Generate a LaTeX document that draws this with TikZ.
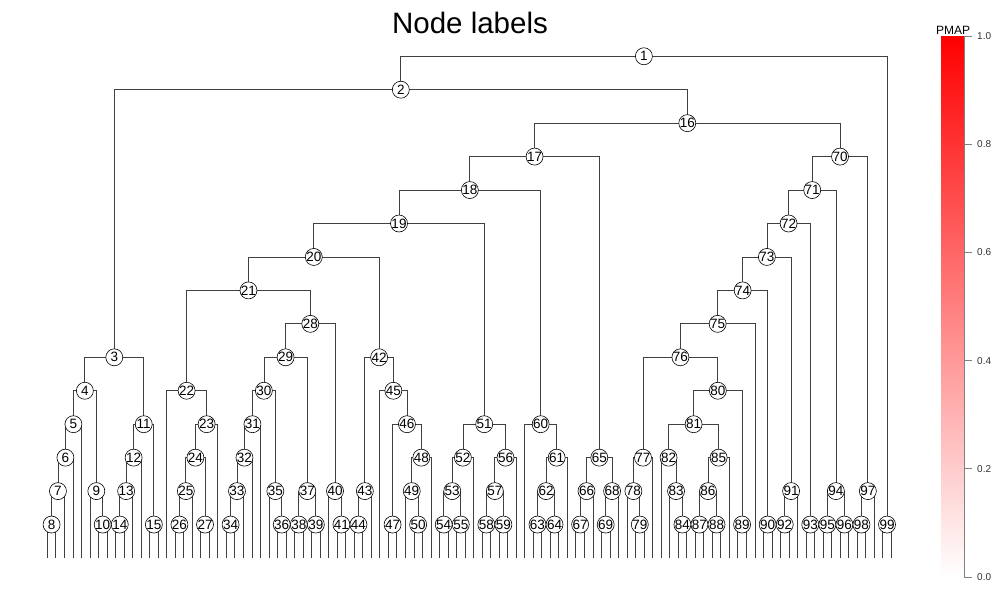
\documentclass[tikz,border=0pt]{standalone}
\usepackage{fontspec}
\setmainfont{Liberation Sans}
\usetikzlibrary{calc}
\pgfdeclarelayer{background}
\pgfsetlayers{background,main}
\tikzset{
  lab/.style={circle, draw=black, fill=white, line width=0.6pt, minimum size=17pt, inner sep=-1.5pt, font=\fontsize{13.5}{14}\selectfont},
  edge/.style={draw=black!75, line width=0.75pt},
  axisline/.style={draw=black!50, line width=0.7pt},
  ticklab/.style={font=\fontsize{10}{11}\selectfont, text=black!80, anchor=west, inner sep=0pt}
}
\newcommand\tnode[4]{%
  \coordinate (m#1) at ($(#2.center)!0.5!(#3.center)$);
  \node[lab] (n#1) at (m#1 |- H#4) {#1};
  \begin{pgfonlayer}{background}
    \draw[edge] (#2.center) |- (n#1.center) -| (#3.center);
  \end{pgfonlayer}
}
\begin{document}
\begin{tikzpicture}[x=1pt,y=-1pt]
\useasboundingbox (0,0) rectangle (1000,600);
\foreach \h in {0,...,15} \coordinate (H\h) at (0,{558-33.45*\h});
\foreach \i in {0,...,99} \coordinate (L\i) at ({47.3+8.525*\i},558);
% subtree 3
\tnode{8}{L0}{L1}{1}
\tnode{7}{n8}{L2}{2}
\tnode{6}{n7}{L3}{3}
\tnode{5}{n6}{L4}{4}
\tnode{10}{L6}{L7}{1}
\tnode{9}{L5}{n10}{2}
\tnode{4}{n5}{n9}{5}
\tnode{14}{L8}{L9}{1}
\tnode{13}{n14}{L10}{2}
\tnode{12}{n13}{L11}{3}
\tnode{15}{L12}{L13}{1}
\tnode{11}{n12}{n15}{4}
\tnode{3}{n4}{n11}{6}
% subtree 22
\tnode{26}{L15}{L16}{1}
\tnode{25}{n26}{L17}{2}
\tnode{27}{L18}{L19}{1}
\tnode{24}{n25}{n27}{3}
\tnode{23}{n24}{L20}{4}
\tnode{22}{L14}{n23}{5}
% subtree 28
\tnode{34}{L21}{L22}{1}
\tnode{33}{n34}{L23}{2}
\tnode{32}{n33}{L24}{3}
\tnode{31}{n32}{L25}{4}
\tnode{36}{L27}{L28}{1}
\tnode{35}{L26}{n36}{2}
\tnode{30}{n31}{n35}{5}
\tnode{38}{L29}{L30}{1}
\tnode{39}{L31}{L32}{1}
\tnode{37}{n38}{n39}{2}
\tnode{29}{n30}{n37}{6}
\tnode{41}{L34}{L35}{1}
\tnode{40}{L33}{n41}{2}
\tnode{28}{n29}{n40}{7}
\tnode{21}{n22}{n28}{8}
% subtree 42
\tnode{44}{L36}{L37}{1}
\tnode{43}{n44}{L38}{2}
\tnode{47}{L40}{L41}{1}
\tnode{50}{L43}{L44}{1}
\tnode{49}{L42}{n50}{2}
\tnode{48}{n49}{L45}{3}
\tnode{46}{n47}{n48}{4}
\tnode{45}{L39}{n46}{5}
\tnode{42}{n43}{n45}{6}
\tnode{20}{n21}{n42}{9}
% subtree 51
\tnode{54}{L46}{L47}{1}
\tnode{55}{L48}{L49}{1}
\tnode{53}{n54}{n55}{2}
\tnode{52}{n53}{L50}{3}
\tnode{58}{L51}{L52}{1}
\tnode{59}{L53}{L54}{1}
\tnode{57}{n58}{n59}{2}
\tnode{56}{n57}{L55}{3}
\tnode{51}{n52}{n56}{4}
\tnode{19}{n20}{n51}{10}
% subtree 60
\tnode{63}{L57}{L58}{1}
\tnode{64}{L59}{L60}{1}
\tnode{62}{n63}{n64}{2}
\tnode{61}{n62}{L61}{3}
\tnode{60}{L56}{n61}{4}
\tnode{18}{n19}{n60}{11}
% subtree 65
\tnode{67}{L62}{L63}{1}
\tnode{66}{n67}{L64}{2}
\tnode{69}{L65}{L66}{1}
\tnode{68}{n69}{L67}{2}
\tnode{65}{n66}{n68}{3}
\tnode{17}{n18}{n65}{12}
% subtree 70
\tnode{79}{L69}{L70}{1}
\tnode{78}{L68}{n79}{2}
\tnode{77}{n78}{L71}{3}
\tnode{84}{L74}{L75}{1}
\tnode{83}{L73}{n84}{2}
\tnode{82}{L72}{n83}{3}
\tnode{87}{L76}{L77}{1}
\tnode{88}{L78}{L79}{1}
\tnode{86}{n87}{n88}{2}
\tnode{85}{n86}{L80}{3}
\tnode{81}{n82}{n85}{4}
\tnode{89}{L81}{L82}{1}
\tnode{80}{n81}{n89}{5}
\tnode{76}{n77}{n80}{6}
\tnode{75}{n76}{L83}{7}
\tnode{90}{L84}{L85}{1}
\tnode{74}{n75}{n90}{8}
\tnode{92}{L86}{L87}{1}
\tnode{91}{n92}{L88}{2}
\tnode{73}{n74}{n91}{9}
\tnode{93}{L89}{L90}{1}
\tnode{72}{n73}{n93}{10}
\tnode{95}{L91}{L92}{1}
\tnode{96}{L93}{L94}{1}
\tnode{94}{n95}{n96}{2}
\tnode{71}{n72}{n94}{11}
\tnode{98}{L95}{L96}{1}
\tnode{97}{n98}{L97}{2}
\tnode{70}{n71}{n97}{12}
\tnode{16}{n17}{n70}{13}
\tnode{2}{n3}{n16}{14}
\tnode{99}{L98}{L99}{1}
\tnode{1}{n2}{n99}{15}
% title
\node[anchor=base, font=\fontsize{29.5}{31}\selectfont, inner sep=0pt] (title) at (470,33) {Node labels};
% colour bar
\shade[bottom color=white, top color=red] (941,36) rectangle (964,577);
\draw[axisline] (964,36) -- (964,577);
\foreach \k/\t in {0/0.0,1/0.2,2/0.4,3/0.6,4/0.8,5/1.0} {
  \draw[axisline] (964,{577-108.2*\k}) -- (972,{577-108.2*\k});
  \node[ticklab] (t\k) at (977,{577-108.2*\k}) {\t};
}
\node[anchor=base, font=\fontsize{12}{13}\selectfont, inner sep=0pt] (pmap) at (953,34) {PMAP};
\end{tikzpicture}
\end{document}
